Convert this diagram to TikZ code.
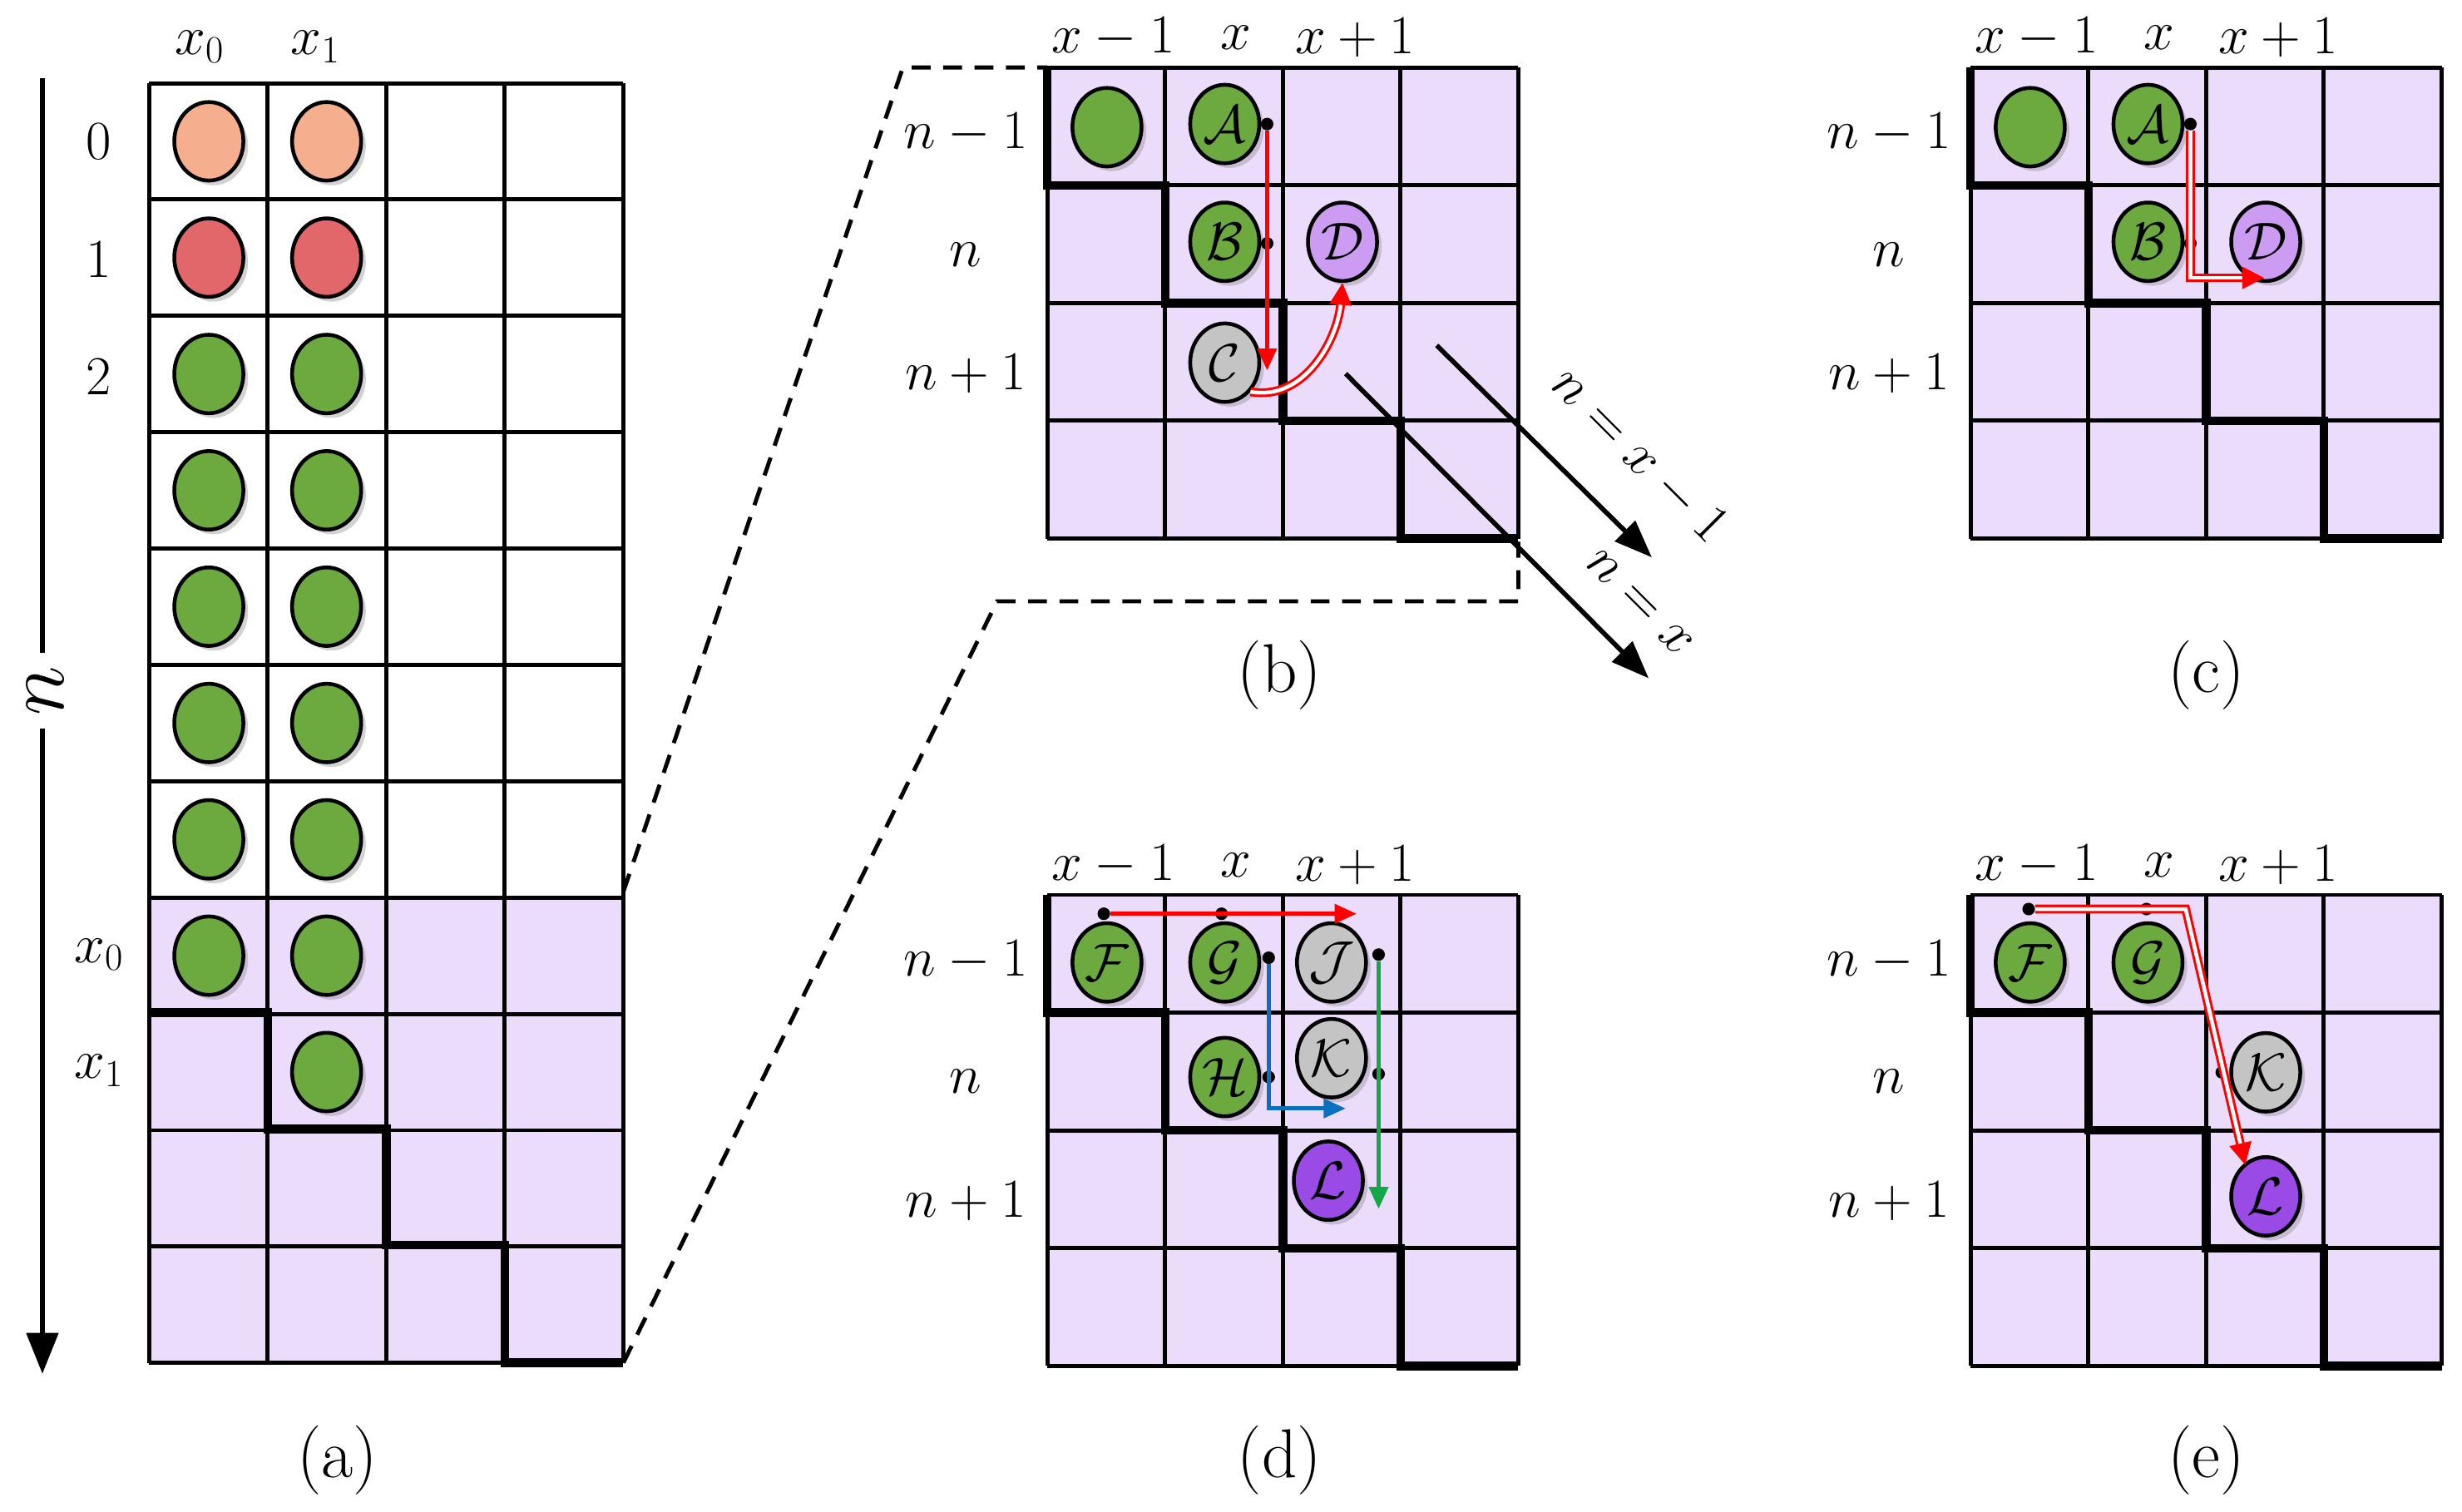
\RequirePackage{fix-cm}
\documentclass[tikz,border=0pt]{standalone}
\usetikzlibrary{arrows.meta,shapes.geometric,shadows}
\definecolor{lav}{HTML}{ECDCFB}
\definecolor{cgreen}{HTML}{6CAA40}
\definecolor{csalmon}{HTML}{F5AF8E}
\definecolor{cred}{HTML}{E2676A}
\definecolor{cgray}{HTML}{C4C4C4}
\definecolor{cpurpL}{HTML}{CB9CF2}
\definecolor{cpurpD}{HTML}{9A4BE6}
\definecolor{ablue}{HTML}{0B6FC0}
\definecolor{agreen}{HTML}{12A84A}
\tikzset{
 x=1pt,y=-1pt,
 gridl/.style={line width=2.6pt},
 stair/.style={line width=5.5pt},
 ball/.style={ellipse,draw=black,line width=2.4pt,minimum width=44pt,minimum height=50pt,inner sep=0pt,font=\fontsize{34}{36}\selectfont,drop shadow={opacity=0.35,shadow xshift=3pt,shadow yshift=-3pt}},
 g/.style={ball,fill=cgreen},
 lbl/.style={font=\fontsize{35}{38}\selectfont,inner sep=1pt},
 capt/.style={font=\fontsize{44}{48}\selectfont},
 dotn/.style={circle,fill=black,inner sep=0pt,minimum size=8pt},
 arr/.style={line width=2.6pt,-{Triangle[length=14pt,width=12pt]}},
 dbl/.style={draw=red,double=white,double distance=2.4pt,line width=1.6pt,-{Triangle[length=14pt,width=14pt]},red},
}
\newcommand\panelgrid[2]{%
 \fill[lav] (#1,#2) rectangle ++(300,300);
 \foreach \i in {0,75,150,225,300}{\draw[gridl] (#1+\i,#2) -- (#1+\i,#2+300); \draw[gridl] (#1,#2+\i) -- (#1+300,#2+\i);}
 \draw[stair] (#1,#2) -- ++(0,75) -- ++(75,0) -- ++(0,75) -- ++(75,0) -- ++(0,75) -- ++(75,0) -- ++(0,75) -- ++(75,0);
}
\newcommand\panellabels[3]{% x y rowlabel x
 \node[lbl] at (#1+42,#2-19) {$x-1$};
 \node[lbl] at (#1+120,#2-19) {$x$};
 \node[lbl] at (#1+196,#2-19) {$x+1$};
 \node[lbl] at (#3,#2+42) {$n-1$};
 \node[lbl] at (#3,#2+119) {$n$};
 \node[lbl] at (#3,#2+195) {$n+1$};
}
\begin{document}
\begin{tikzpicture}
\useasboundingbox (0,0) rectangle (1568,963);
\fill[white] (0,0) rectangle (1568,963);
% ---------- panel (a)
\fill[lav] (95,571) rectangle (397,868);
\foreach \c in {95,170.5,246,321.5,397}{\draw[gridl] (\c,53) -- (\c,868);}
\foreach \r in {0,...,11}{\draw[gridl] (95,53+\r*74.1) -- (397,53+\r*74.1);}
\draw[stair] (95,645) -- (170.5,645) -- (170.5,719) -- (246,719) -- (246,793) -- (321.5,793) -- (321.5,868) -- (397,868);
\foreach \r/\col in {0/csalmon,1/cred,2/cgreen,3/cgreen,4/cgreen,5/cgreen,6/cgreen,7/cgreen}{
 \node[ball,fill=\col] (a0\r) at (133,90+\r*74.1) {};
 \node[ball,fill=\col] (a1\r) at (208,90+\r*74.1) {};}
\node[g] (a18) at (208,90+8*74.1) {};
\node[lbl] at (127,30) {$x_0$};
\node[lbl] at (201,30) {$x_1$};
\node[lbl] at (63,90) {0};
\node[lbl] at (63,165) {1};
\node[lbl] at (63,240) {2};
\node[lbl] at (63,608) {$x_0$};
\node[lbl] at (63,682) {$x_1$};
\node[font=\fontsize{54}{58}\selectfont,rotate=90,inner xsep=8pt,inner ysep=0pt] (nlab) at (29,440) {$n$};
\coordinate (nt) at (27,50);
\coordinate (nb) at (27,875);
\draw[line width=3pt] (nt) -- (nt |- nlab.east);
\draw[line width=3pt,-{Triangle[length=26pt,width=20pt]}] (nt |- nlab.west) -- (nb);
% dashed zoom lines
\draw[line width=2.6pt,dash pattern=on 12pt off 8pt] (397,568) -- (575,43) -- (667,43);
\draw[line width=2.6pt,dash pattern=on 12pt off 8pt] (397,868) -- (635,383) -- (967,383) -- (967,345);
% ---------- panel (b)
\panelgrid{667}{43}
\panellabels{667}{43}{615}
\node[g] (b0) at (705,81) {};
\node[g] (bA) at (780,79) {$\mathcal{A}$};
\node[g] (bB) at (780,154) {$\mathcal{B}$};
\node[ball,fill=cpurpL] (bD) at (855,154) {$\mathcal{D}$};
\node[ball,fill=cgray] (bC) at (780,231) {$\mathcal{C}$};
\node[dotn] (bd1) at (807,79) {};
\node[dotn] (bd2) at (807,155) {};
\coordinate (bend) at (807,236);
\draw[arr,red] (bd1) -- (bend);
\draw[dbl] (bC.south east) to[out=-10,in=-95] (bD.south);
\coordinate (l1s) at (857,238); \coordinate (l1e) at (1050,432);
\coordinate (l2s) at (915,220); \coordinate (l2e) at (1052,355);
\draw[line width=3pt,-{Triangle[length=24pt,width=18pt]}] (l1s) -- (l1e);
\draw[line width=3pt,-{Triangle[length=24pt,width=18pt]}] (l2s) -- (l2e);
\node[lbl,rotate=-45,inner sep=0pt] at (1044,384) {$n=x$};
\node[lbl,rotate=-45,inner sep=0pt] at (1044,290) {$n=x-1$};
\node[capt] at (815,430) {(b)};
% ---------- panel (c)
\panelgrid{1255}{43}
\panellabels{1255}{43}{1203}
\node[g] (c0) at (1293,81) {};
\node[g] (cA) at (1368,79) {$\mathcal{A}$};
\node[g] (cB) at (1368,154) {$\mathcal{B}$};
\node[ball,fill=cpurpL] (cD) at (1443,154) {$\mathcal{D}$};
\node[dotn] (cd1) at (1395,79) {};
\node[dotn] (cd2) at (1395,155) {};
\coordinate (cend) at (1442,177);
\draw[dbl] (cd1) |- (cend);
\node[capt] at (1405,430) {(c)};
% ---------- panel (d)
\panelgrid{667}{570}
\panellabels{667}{570}{615}
\node[g] (dF) at (705,613) {$\mathcal{F}$};
\node[g] (dG) at (780,613) {$\mathcal{G}$};
\node[ball,fill=cgray] (dJ) at (848,613) {$\mathcal{J}$};
\node[g] (dH) at (780,686) {$\mathcal{H}$};
\node[ball,fill=cgray] (dK) at (848,674) {$\mathcal{K}$};
\node[ball,fill=cpurpD] (dL) at (846,752) {$\mathcal{L}$};
\node[dotn] (dr1) at (703,582) {};
\node[dotn] (dr2) at (778,582) {};
\coordinate (drend) at (864,582);
\draw[arr,red] (dr1) -- (drend);
\node[dotn] (db1) at (808,610) {};
\node[dotn] (db2) at (808,686) {};
\coordinate (dbend) at (857,706);
\draw[arr,ablue] (db1) |- (dbend);
\node[dotn] (dg1) at (878,608) {};
\node[dotn] (dg2) at (878,684) {};
\coordinate (dgend) at (878,770);
\draw[arr,agreen] (dg1) -- (dgend);
\node[capt] at (815,930) {(d)};
% ---------- panel (e)
\panelgrid{1255}{570}
\panellabels{1255}{570}{1203}
\node[g] (eF) at (1293,613) {$\mathcal{F}$};
\node[g] (eG) at (1368,613) {$\mathcal{G}$};
\node[ball,fill=cgray] (eK) at (1443,683) {$\mathcal{K}$};
\node[ball,fill=cpurpD] (eL) at (1443,762) {$\mathcal{L}$};
\node[dotn] (e1) at (1292,579) {};
\node[dotn] (e2) at (1367,579) {};
\node[dotn] (e3) at (1415,683) {};
\coordinate (ebend) at (1392,579);
\coordinate (eend) at (1430,742);
\draw[dbl] (e1) -- (ebend) -- (eend);
\node[capt] at (1405,930) {(e)};
\node[capt] at (215,930) {(a)};
\end{tikzpicture}
\end{document}
